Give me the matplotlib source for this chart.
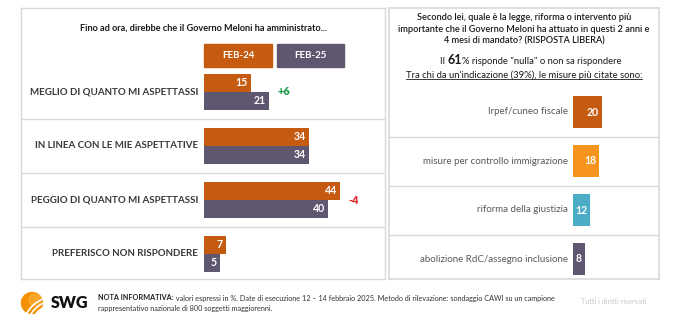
import matplotlib.pyplot as plt
from matplotlib.patches import Rectangle, Circle, Arc
from matplotlib.lines import Line2D
import numpy as np

# dati pannello sinistro
categorie = ['MEGLIO DI QUANTO MI ASPETTASSI', 'IN LINEA CON LE MIE ASPETTATIVE',
             'PEGGIO DI QUANTO MI ASPETTASSI', 'PREFERISCO NON RISPONDERE']
feb24 = [15, 34, 44, 7]
feb25 = [21, 34, 40, 5]
delta = ['+6', '', '-4', '']
serie = ['FEB-24', 'FEB-25']

# dati pannello destro
misure = ['Irpef/cuneo fiscale', 'misure per controllo immigrazione',
          'riforma della giustizia', 'abolizione RdC/assegno inclusione']
valori_misure = [20, 18, 12, 8]

C_ARANCIO = '#C55A11'
C_VIOLA = '#5F5670'
COLORI_MISURE = ['#C55A11', '#F7941D', '#4BACC6', '#5F5670']
GRIGIO_BORDO = '#D9D9D9'
FONT = 'Lato'

W, H = 680, 321
fig = plt.figure(figsize=(W / 100, H / 100), dpi=100)
fig.patch.set_facecolor('white')


def px_axes(x0, y0, x1, y1):
    # assi posizionati in pixel (origine in alto a sinistra)
    return fig.add_axes([x0 / W, 1 - y1 / H, (x1 - x0) / W, (y1 - y0) / H])


# ---------------- pannello sinistro ----------------
ax = px_axes(21, 8, 385, 279)
sc = 3.1      # px per unità
rs = 54       # px tra le righe
ax.set_xlim(-183 / sc, 181 / sc)
ax.set_ylim((279 - 92) / rs, (8 - 92) / rs)
h = 18 / rs
y = np.arange(len(categorie))
ax.barh(y - h / 2, feb24, height=h, color=C_ARANCIO, align='center')
ax.barh(y + h / 2, feb25, height=h, color=C_VIOLA, align='center')
for i in range(len(categorie)):
    ax.text(-6 / sc, y[i], categorie[i], ha='right', va='center', fontsize=7.0,
            fontweight='bold', color='#3A3A3A', family=FONT)
    ax.text(feb24[i] - 1, y[i] - h / 2, str(feb24[i]), ha='right', va='center',
            fontsize=7.6, fontweight='bold', color='white', family=FONT)
    ax.text(feb25[i] - 1, y[i] + h / 2, str(feb25[i]), ha='right', va='center',
            fontsize=7.6, fontweight='bold', color='white', family=FONT)
    if delta[i]:
        col = '#1E9E4A' if delta[i].startswith('+') else '#E3262B'
        ax.text(max(feb24[i], feb25[i]) + 8 / sc, y[i], delta[i], ha='left', va='center',
                fontsize=7.8, fontweight='heavy', color=col, family=FONT)
for s in [0.5, 1.5, 2.5]:
    ax.axhline(s, color=GRIGIO_BORDO, lw=1)

# legenda
leg_x = [(0, 68 / sc), (73 / sc, 140 / sc)]
for (x0, x1), lab, col in zip(leg_x, serie, [C_ARANCIO, C_VIOLA]):
    ax.add_patch(Rectangle((x0, (44 - 92) / rs), x1 - x0, 23 / rs, color=col))
    ax.text((x0 + x1) / 2, (55.5 - 92) / rs, lab, ha='center', va='center',
            fontsize=7, fontweight='bold', color='white', family=FONT)

ax.text(0.5, 1 - 20 / 271, 'Fino ad ora, direbbe che il Governo Meloni ha amministrato...',
        transform=ax.transAxes, ha='center', va='center', fontsize=6.6,
        fontweight='bold', color='#1A1A1A', family=FONT)
ax.set_xticks([])
ax.set_yticks([])
for sp in ax.spines.values():
    sp.set_color(GRIGIO_BORDO)
    sp.set_linewidth(1)

# ---------------- pannello destro ----------------
ax2 = px_axes(389, 8, 659, 279)
sc2 = 1.45
rs2 = 49
ax2.set_xlim(-184 / sc2, 86 / sc2)
ax2.set_ylim((279 - 112) / rs2, (8 - 112) / rs2)
y2 = np.arange(len(misure))
ax2.barh(y2, valori_misure, height=32 / rs2, color=COLORI_MISURE)
for i in range(len(misure)):
    ax2.text(-5 / sc2, y2[i], misure[i], ha='right', va='center', fontsize=7,
             color='#595959', family=FONT)
    if valori_misure[i] >= 10:
        ax2.text(valori_misure[i] - 3 / sc2, y2[i], str(valori_misure[i]), ha='right',
                 va='center', fontsize=7.6, fontweight='bold', color='white', family=FONT)
    else:
        ax2.text(valori_misure[i] / 2, y2[i], str(valori_misure[i]), ha='center',
                 va='center', fontsize=7.6, fontweight='bold', color='white', family=FONT)
for s in [0.5, 1.5, 2.5]:
    ax2.axhline(s, color=GRIGIO_BORDO, lw=1)

titolo_dx = ['Secondo lei, quale è la legge, riforma o intervento più',
             'importante che il Governo Meloni ha attuato in questi 2 anni e',
             '4 mesi di mandato? (RISPOSTA LIBERA)']
for k, riga in enumerate(titolo_dx):
    ax2.text(0.5, 1 - (9 + 12 * k) / 271, riga, transform=ax2.transAxes, ha='center',
             va='center', fontsize=6.6, color='#1A1A1A', family=FONT, fontweight='semibold')

t61 = ax2.text((455 - 389) / 270, 1 - (64 - 8) / 271, '61', transform=ax2.transAxes,
               fontsize=9, fontweight='bold', color='#1A1A1A', family=FONT,
               ha='center', va='baseline')
ax2.annotate('Il ', xy=(0, 0), xycoords=t61, ha='right', va='bottom', fontsize=6.8,
             color='#1A1A1A', family=FONT)
ax2.annotate('% risponde "nulla" o non sa rispondere', xy=(1, 0), xycoords=t61,
             ha='left', va='bottom', fontsize=6.8, color='#1A1A1A', family=FONT)
t_sub = ax2.text(0.5, 1 - (75 - 8) / 271,
                 "Tra chi da un'indicazione (39%), le misure più citate sono:",
                 transform=ax2.transAxes, ha='center', va='center', fontsize=6.8,
                 color='#1A1A1A', family=FONT)
ax2.set_xticks([])
ax2.set_yticks([])
for sp in ax2.spines.values():
    sp.set_color(GRIGIO_BORDO)
    sp.set_linewidth(1.2)

# sottolineatura
fig.canvas.draw()
bb = t_sub.get_window_extent()
inv = fig.transFigure.inverted()
(xa, ya), (xb, _) = inv.transform([(bb.x0, bb.y0 + 1), (bb.x1, bb.y0)])
fig.add_artist(Line2D([xa, xb], [ya, ya], color='#1A1A1A', lw=0.6))

# ---------------- piè di pagina ----------------
axl = px_axes(0, 280, 100, 321)
axl.set_xlim(0, 100)
axl.set_ylim(41, 0)
axl.set_aspect('equal')
axl.axis('off')
axl.add_patch(Circle((32, 23), 10.5, color='#F39200'))
axl.add_patch(Circle((35, 20), 6, color='#FBB040', alpha=0.6))
for r, t1, t2 in [(14, 200, 300), (18, 210, 290), (22, 215, 285)]:
    axl.add_patch(Arc((50, 40), 2 * r + 10, 2 * r, angle=-30, theta1=t1, theta2=t2,
                      color='white', lw=1.2))
axl.text(51, 23, 'SWG', ha='left', va='center', fontsize=11.5, fontweight='heavy',
         color='#111111', family=FONT)

t_nota = fig.text(98 / W, 1 - 298 / H, 'NOTA INFORMATIVA:', fontsize=5.2, va='center',
                  fontweight='bold', color='#222222', family=FONT)
ax.annotate(' valori espressi in %. Date di esecuzione 12 – 14 febbraio 2025. '
            'Metodo di rilevazione: sondaggio CAWI su un campione',
            xy=(1, 0.5), xycoords=t_nota, ha='left', va='center', fontsize=5.2,
            color='#333333', family=FONT, annotation_clip=False)
fig.text(98 / W, 1 - 309 / H, 'rappresentativo nazionale di 800 soggetti maggiorenni.',
         fontsize=5.2, va='center', color='#333333', family=FONT)
fig.text(614 / W, 1 - 302 / H, 'Tutti i diritti riservati', ha='center', va='center',
         fontsize=5.2, color='#C8C8C8', family=FONT)

fig.savefig('out.png', dpi=100)
